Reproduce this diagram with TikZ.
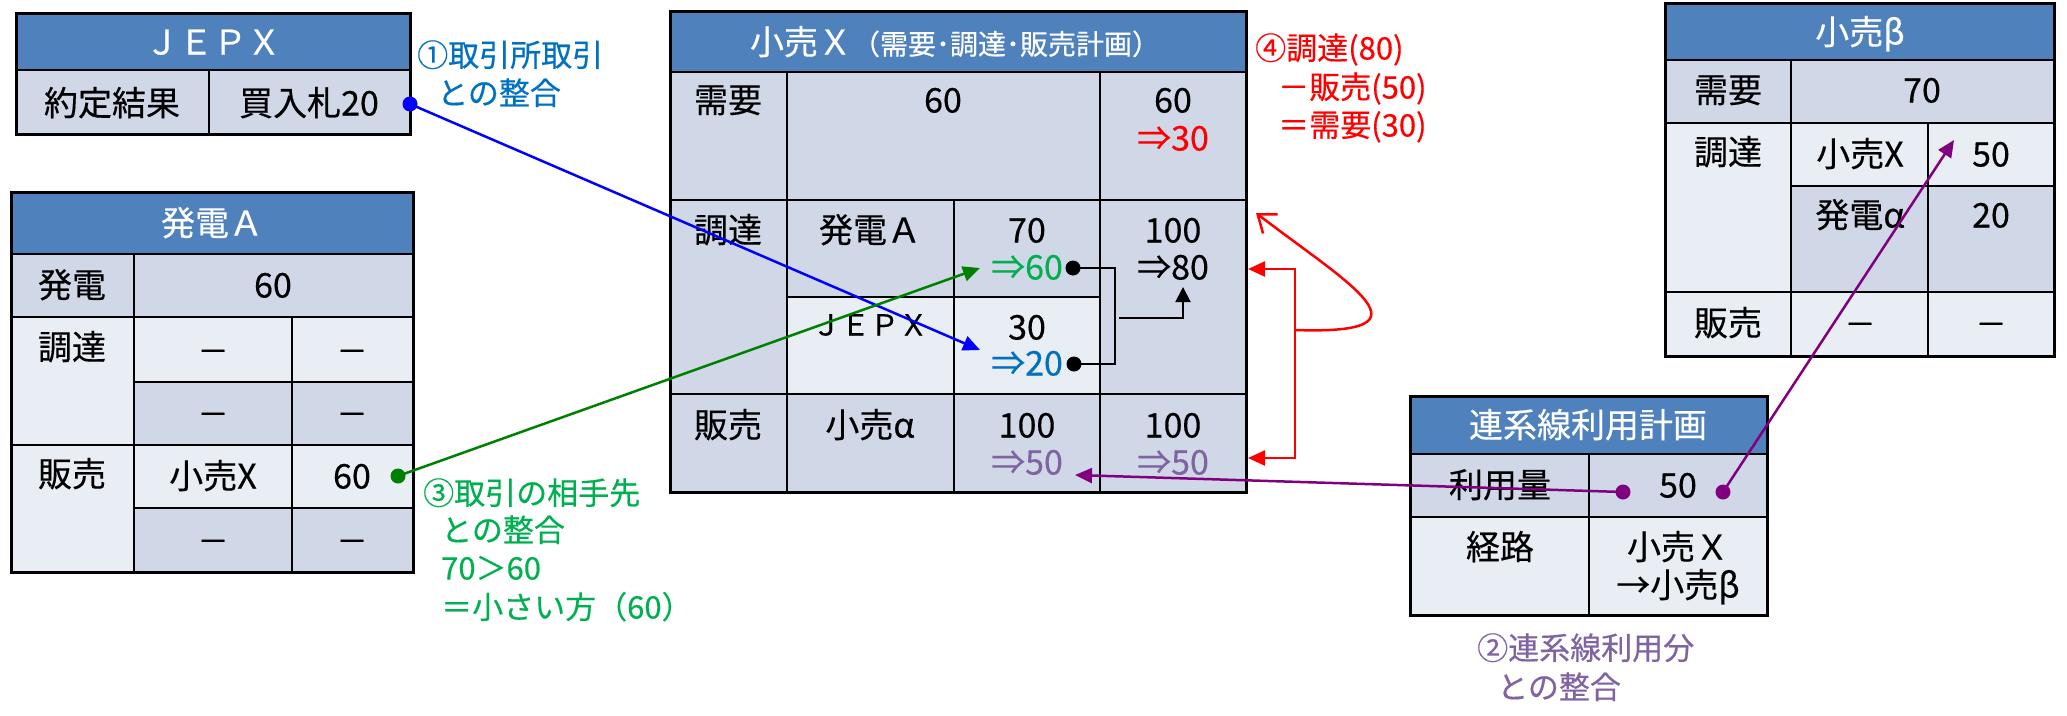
\documentclass[tikz,border=0pt]{standalone}
\usepackage{fontspec}
\setmainfont{Noto Sans CJK JP}[FakeBold=0.4]
\usetikzlibrary{arrows.meta}

\definecolor{headblue}{HTML}{4F81BD}
\definecolor{banddark}{HTML}{D0D8E8}
\definecolor{bandlight}{HTML}{E9EDF4}
\definecolor{noteblue}{HTML}{0070C0}
\definecolor{notegreen}{HTML}{00B050}
\definecolor{notepurple}{HTML}{8064A2}
\definecolor{linegreen}{HTML}{008000}
\definecolor{linepurple}{HTML}{800080}

\newcommand\tabfont{\fontsize{34}{40}\selectfont}
\newcommand\notefont{\fontsize{31}{38}\selectfont}
\newcommand\subfont{\fontsize{28}{32}\selectfont}
\newcommand\dashfont{\fontsize{31}{36}\selectfont}

\tikzstyle{cell} = [draw, line width=2pt]
\tikzstyle{frame} = [draw, line width=3pt]
\tikzstyle{txt} = [inner sep=0pt, text height=29pt, text depth=4pt, font=\tabfont]
\tikzstyle{head} = [txt, text=white]
\tikzstyle{nil} = [txt, font=\dashfont]
\tikzstyle{note} = [inner sep=0pt, text height=27pt, text depth=4pt, font=\notefont, anchor=west]
\tikzstyle{dot} = [circle, inner sep=0pt, minimum size=15pt]
\tikzstyle{link} = [line width=2.5pt, -{Triangle[length=17pt,width=15pt]}]

\begin{document}
\begin{tikzpicture}[x=1pt,y=-1pt]
\useasboundingbox (0,0) rectangle (2067,715);

    	%cells
\foreach \xa/\ya/\xb/\yb/\c in {
	16/13/410/70/headblue, 16/70/209/134/banddark, 209/70/410/134/banddark,
	11/192/413/254/headblue, 11/254/134/317/banddark, 134/254/413/317/banddark,
	11/317/134/445/bandlight, 134/317/292/382/bandlight, 292/317/413/382/bandlight,
	134/382/292/445/banddark, 292/382/413/445/banddark,
	11/445/134/572/bandlight, 134/445/292/508/bandlight, 292/445/413/508/bandlight,
	134/508/292/572/banddark, 292/508/413/572/banddark,
	670/11/1246/72/headblue, 670/72/787/200/banddark, 787/72/1100/200/banddark,
	1100/72/1246/200/banddark, 670/200/787/394/banddark, 787/200/954/297/banddark,
	954/200/1100/297/banddark, 787/297/954/394/bandlight, 954/297/1100/394/bandlight,
	1100/200/1246/394/banddark, 670/394/787/492/banddark, 787/394/954/492/banddark,
	954/394/1100/492/banddark, 1100/394/1246/492/banddark,
	1665/3/2054/60/headblue, 1665/60/1791/123/banddark, 1791/60/2054/123/banddark,
	1665/123/1791/292/bandlight, 1791/123/1928/186/bandlight, 1928/123/2054/186/bandlight,
	1791/186/1928/292/banddark, 1928/186/2054/292/banddark,
	1665/292/1791/356/bandlight, 1791/292/1928/356/bandlight, 1928/292/2054/356/bandlight,
	1410/396/1767/454/headblue, 1410/454/1589/517/banddark, 1589/454/1767/517/banddark,
	1410/517/1589/615/bandlight, 1589/517/1767/615/bandlight}
	\path[cell, fill=\c] (\xa,\ya) rectangle (\xb,\yb);

\foreach \xa/\ya/\xb/\yb in {16/13/410/134, 11/192/413/572, 670/11/1246/492,
	1665/3/2054/356, 1410/396/1767/615}
	\path[frame] (\xa,\ya) rectangle (\xb,\yb);

    	%JEPX
\node [head] (jepxhead) at (213,42) {ＪＥＰＸ};
\node [txt] (jepxres) at (112,103) {約定結果};
\node [txt] (jepxbid) at (309,103) {買入札20};

    	%generator A
\node [head] (genhead) at (212,223) {発電Ａ};
\node [txt] (genlbl) at (72,285) {発電};
\node [txt] (genval) at (273,285) {60};
\node [txt] (genproc) at (72,347) {調達};
\node [txt] (gensale) at (72,474) {販売};
\node [txt] (genbuyer) at (213,476) {小売X};
\node [txt] (gensold) at (352,476) {60};
\foreach \x/\y in {213/350, 352/350, 213/413, 352/413, 213/540, 352/540}
	\node [nil] (gendash-\x-\y) at (\x,\y) {－};

    	%retailer X
\node [head] (xhead) at (955,42) {小売Ｘ{\subfont（需要･調達･販売計画）}};
\node [txt] (xdem) at (728,100) {需要};
\node [txt] (xdemval) at (943,100) {60};
\node [txt] (xdemold) at (1173,100) {60};
\node [txt, text=red] (xdemnew) at (1173,138) {⇒30};
\node [txt] (xproc) at (728,230) {調達};
\node [txt] (xgen) at (870,230) {発電Ａ};
\node [txt] (xgenold) at (1027,230) {70};
\node [txt, text=notegreen] (xgennew) at (1027,267) {⇒60};
\node [txt, font=\fontsize{29}{34}\selectfont] (xjepx) at (870,323) {ＪＥＰＸ};
\node [txt] (xjepxold) at (1027,327) {30};
\node [txt, text=noteblue] (xjepxnew) at (1027,363) {⇒20};
\node [txt] (xprocold) at (1173,230) {100};
\node [txt] (xprocnew) at (1173,267) {⇒80};
\node [txt] (xsale) at (728,425) {販売};
\node [txt] (xbuyer) at (870,425) {小売α};
\node [txt] (xsaleold) at (1027,425) {100};
\node [txt, text=notepurple] (xsalenew) at (1027,462) {⇒50};
\node [txt] (xsumold) at (1173,425) {100};
\node [txt, text=notepurple] (xsumnew) at (1173,462) {⇒50};

    	%retailer beta
\node [head] (bhead) at (1860,32) {小売β};
\node [txt] (bdem) at (1728,90) {需要};
\node [txt] (bdemval) at (1922,90) {70};
\node [txt] (bproc) at (1728,152) {調達};
\node [txt] (bfromx) at (1860,154) {小売X};
\node [txt] (bfromxval) at (1991,154) {50};
\node [txt] (bgen) at (1860,215) {発電α};
\node [txt] (bgenval) at (1991,215) {20};
\node [txt] (bsale) at (1728,323) {販売};
\foreach \x in {1860, 1991}
	\node [nil] (bdash-\x) at (\x,323) {－};

    	%interconnector plan
\node [head] (linkhead) at (1588,425) {連系線利用計画};
\node [txt] (linkuse) at (1500,485) {利用量};
\node [txt] (linkval) at (1678,485) {50};
\node [txt] (linkroute) at (1500,547) {経路};
\node [txt] (linkfrom) at (1678,547) {小売Ｘ};
\node [txt] (linkto) at (1678,585) {→小売β};

    	%notes
\node [note, text=noteblue] (noteA) at (417,55) {①取引所取引};
\node [note, text=noteblue] (noteAb) at (437,93) {との整合};
\node [note, text=notegreen] (noteC) at (423,493) {③取引の相手先};
\node [note, text=notegreen] (noteCb) at (441,530) {との整合};
\node [note, text=notegreen] (noteCc) at (441,568) {70＞60};
\node [note, text=notegreen] (noteCd) at (441,607) {＝小さい方（60）};
\node [note, text=red] (noteD) at (1255,48) {④調達(80)};
\node [note, text=red] (noteDb) at (1278,87) {－販売(50)};
\node [note, text=red] (noteDc) at (1278,125) {＝需要(30)};
\node [note, text=notepurple] (noteB) at (1477,648) {②連系線利用分};
\node [note, text=notepurple] (noteBb) at (1497,687) {との整合};

    	%connectors
\coordinate (jepxtip) at (980,350);
\coordinate (gentip) at (980,268);
\coordinate (sumfrom) at (1119,318);
\coordinate (sumtip) at (1183,287);
\coordinate (rtop) at (1248,269);
\coordinate (rjoin) at (1295,330);
\coordinate (rbot) at (1248,458);
\coordinate (rloop) at (1256,213);
\coordinate (saletip) at (1075,475);
\coordinate (btip) at (1954,140);

\node [dot, fill=blue] (jepxdot) at (410,104) {};
\node [dot, fill=linegreen] (gendot) at (398,476) {};
\node [dot, fill=black] (dot60) at (1073,268) {};
\node [dot, fill=black] (dot20) at (1074,364) {};
\node [dot, fill=linepurple] (linkdotl) at (1623,492) {};
\node [dot, fill=linepurple] (linkdotr) at (1723,492) {};

\draw [link, blue] (jepxdot.center) -- (jepxtip);
\draw [link, linegreen] (gendot.center) -- (gentip);
\draw [line width=2pt] (dot60.center) -- ++(42,0) |- (dot20.center);
\draw [line width=2pt, -{Triangle[length=15pt,width=15pt]}] (sumfrom) -| (sumtip);
\draw [link, red, {Triangle[length=17pt,width=15pt]}-{Triangle[length=17pt,width=15pt]}]
	(rtop) -| (rjoin) |- (rbot);
\draw [red, line width=2.5pt, -{Straight Barb[length=16pt,width=24pt]}]
	(rjoin) .. controls (1440,335) and (1350,285) .. (rloop);
\draw [link, linepurple] (linkdotl.center) -- (saletip);
\draw [link, linepurple] (linkdotr.center) -- (btip);

\end{tikzpicture}
\end{document}
